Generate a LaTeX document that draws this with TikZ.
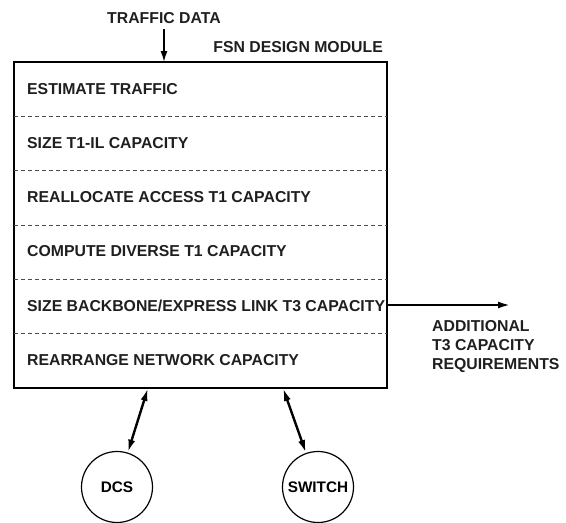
\documentclass[tikz,border=0pt]{standalone}
\usepackage{fontspec}
\setmainfont{Liberation Sans}
\usetikzlibrary{arrows.meta}
\begin{document}
\begin{tikzpicture}[x=1pt,y=-1pt,
  lbl/.style={font=\bfseries\fontsize{15.8}{18}\selectfont, text=black!88, inner sep=0pt, text height=11.3pt, text depth=0pt},
  rowlbl/.style={lbl, anchor=west},
  modbox/.style={draw, line width=1.2pt},
  sep/.style={draw=black!70, line width=0.8pt, dash pattern=on 4pt off 3pt},
  unit/.style={circle, draw, line width=1.2pt, minimum size=71pt, inner sep=0pt, font=\bfseries\fontsize{15.3}{18}\selectfont},
  dbl/.style={line width=2.4pt, {Latex[length=13pt,width=7pt]}-{Latex[length=13pt,width=7pt]}},
  single/.style={line width=1.6pt, -{Latex[length=11pt,width=7pt]}}
]
\useasboundingbox (0,0) rectangle (566,523);
% module box
\draw[modbox] (14,62) rectangle (387,388);
\foreach \yy in {116.3,170.7,225,279.3,333.7}
  \draw[sep] (14,\yy) -- (387,\yy);
% row labels
\node[rowlbl] (r1) at (27,89) {ESTIMATE TRAFFIC};
\node[rowlbl] (r2) at (27,143) {SIZE T1-IL CAPACITY};
\node[rowlbl] (r3) at (27,197) {REALLOCATE ACCESS T1 CAPACITY};
\node[rowlbl] (r4) at (27,251) {COMPUTE DIVERSE T1 CAPACITY};
\node[rowlbl] (r5) at (27,306) {SIZE BACKBONE/EXPRESS LINK T3 CAPACITY};
\node[rowlbl] (r6) at (27,360) {REARRANGE NETWORK CAPACITY};
% top input
\node[lbl] (td) at (164,18) {TRAFFIC DATA};
\node[lbl, anchor=east] (fsn) at (383,47) {FSN DESIGN MODULE};
\coordinate (tdin) at (164,62);
\coordinate (tdtop) at (164,29);
\draw[single] (tdtop) -- (tdin);
% output arrow
\coordinate (outs) at (387,305);
\coordinate (oute) at (510,305);
\draw[line width=2pt, -{Latex[length=12pt,width=7pt]}] (outs) -- (oute);
\node[lbl, anchor=west] (o1) at (432,326) {ADDITIONAL};
\node[lbl, anchor=west] (o2) at (432,345) {T3 CAPACITY};
\node[lbl, anchor=west] (o3) at (432,364) {REQUIREMENTS};
% circles
\node[unit] (dcs) at (117,487) {DCS};
\node[unit] (sw) at (318,487) {SWITCH};
\coordinate (bd) at (148,388);
\coordinate (bs) at (283,388);
\draw[dbl] (bd) -- (dcs);
\draw[dbl] (bs) -- (sw);
\end{tikzpicture}
\end{document}
